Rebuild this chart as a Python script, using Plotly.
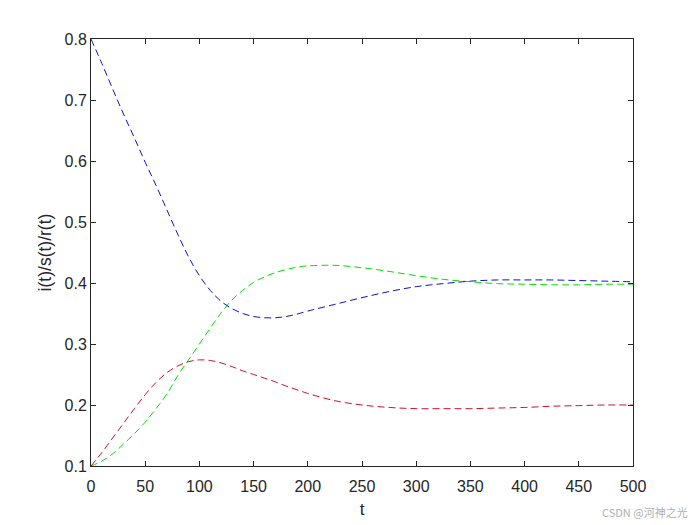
import plotly.graph_objects as go

t = [0, 10, 20, 30, 40, 50, 60, 70, 80, 90, 100, 110, 120, 130, 140, 150, 160, 170, 180, 190, 200,
     225, 250, 275, 300, 325, 350, 375, 400, 425, 450, 475, 500]

s_vals = [0.800, 0.760, 0.718, 0.677, 0.638, 0.598, 0.560, 0.520, 0.480, 0.443, 0.412, 0.388, 0.370,
          0.358, 0.350, 0.345, 0.343, 0.343, 0.345, 0.349, 0.354, 0.365, 0.376, 0.386, 0.394, 0.399,
          0.403, 0.405, 0.405, 0.405, 0.404, 0.403, 0.402]

i_vals = [0.100, 0.122, 0.146, 0.170, 0.194, 0.217, 0.237, 0.253, 0.264, 0.271, 0.274, 0.273, 0.269,
          0.263, 0.256, 0.250, 0.244, 0.238, 0.231, 0.225, 0.219, 0.207, 0.200, 0.196, 0.194, 0.194,
          0.194, 0.195, 0.196, 0.198, 0.199, 0.200, 0.200]

r_vals = [0.100, 0.108, 0.120, 0.136, 0.153, 0.172, 0.194, 0.218, 0.248, 0.274, 0.300, 0.326, 0.351,
          0.372, 0.388, 0.401, 0.410, 0.417, 0.422, 0.426, 0.428, 0.429, 0.425, 0.419, 0.412, 0.406,
          0.402, 0.399, 0.398, 0.397, 0.397, 0.398, 0.398]

x_ticks = [0, 50, 100, 150, 200, 250, 300, 350, 400, 450, 500]
y_ticks = [0.1, 0.2, 0.3, 0.4, 0.5, 0.6, 0.7, 0.8]

FONT = "Liberation Sans, Arial, sans-serif"

fig = go.Figure()
for vals, col in [(r_vals, "#00E000"), (i_vals, "#D0102A"), (s_vals, "#1010D0")]:
    fig.add_trace(go.Scatter(x=t, y=vals, mode="lines", line_shape="spline",
                             line=dict(color=col, width=1, dash="7px,4px"),
                             showlegend=False, hoverinfo="skip"))

axis_common = dict(showline=True, linecolor="#262626", linewidth=1, mirror="ticks",
                   ticks="inside", ticklen=5, tickcolor="#262626", showgrid=False, zeroline=False,
                   automargin=False,
                   tickfont=dict(family=FONT, size=16, color="#262626"))

fig.update_xaxes(range=[0, 500], tickvals=x_ticks, ticktext=[str(v) for v in x_ticks],
                 ticklabelstandoff=6,
                 title=dict(text="t", font=dict(family=FONT, size=17, color="#262626"), standoff=8),
                 **axis_common)
fig.update_yaxes(range=[0.1, 0.8], tickvals=y_ticks, ticktext=[f"{v:.1f}" for v in y_ticks],
                 title=dict(text="i(t)/s(t)/r(t)", font=dict(family=FONT, size=17.5, color="#262626"), standoff=8),
                 **axis_common)

fig.add_annotation(text="CSDN @河神之光", xref="paper", yref="paper", x=1.105, y=-0.108,
                   xanchor="right", yanchor="middle", showarrow=False,
                   font=dict(family="Noto Sans CJK SC, sans-serif", size=11, color="#b0b0b0"))

fig.update_layout(width=692, height=517, margin=dict(l=83, r=67, t=31, b=59),
                  plot_bgcolor="white", paper_bgcolor="white")

fig.write_html("out.html")
